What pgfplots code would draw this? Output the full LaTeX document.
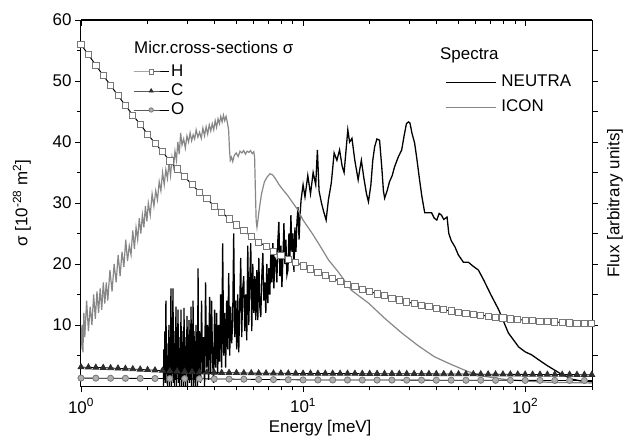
\documentclass[border=0pt]{standalone}
\usepackage{fontspec}
\setmainfont{Liberation Sans}
\usepackage{pgfplots}
\usepackage{pgfplotstable}
\pgfplotsset{compat=1.18}
\definecolor{icongray}{RGB}{135,135,135}
\definecolor{hedge}{RGB}{120,120,120}
\definecolor{ofill}{RGB}{175,175,175}
\definecolor{cfill}{RGB}{45,45,45}

\pgfplotstableread{
E H C O
1.000 56.0 3.10 1.30
1.080 54.3 3.07 1.29
1.166 52.6 3.03 1.29
1.259 50.9 3.00 1.28
1.359 49.3 2.95 1.27
1.468 47.6 2.90 1.27
1.585 46.0 2.85 1.26
1.711 44.4 2.78 1.25
1.848 42.9 2.72 1.25
1.995 41.3 2.65 1.24
2.154 39.8 2.58 1.23
2.326 38.4 2.52 1.23
2.512 36.9 2.45 1.22
2.712 35.6 2.40 1.21
2.929 34.3 2.35 1.21
3.162 33.0 2.30 1.20
3.415 31.8 2.27 1.19
3.687 30.7 2.23 1.17
3.981 29.5 2.20 1.16
4.299 28.5 2.18 1.15
4.642 27.4 2.17 1.13
5.012 26.4 2.15 1.12
5.412 25.5 2.13 1.11
5.843 24.5 2.12 1.09
6.310 23.6 2.10 1.08
6.813 22.9 2.09 1.07
7.356 22.1 2.08 1.05
7.943 21.4 2.08 1.04
8.577 20.8 2.07 1.03
9.261 20.3 2.06 1.01
10.00 19.7 2.05 1.00
10.80 19.2 2.05 1.00
11.66 18.6 2.04 0.99
12.59 18.1 2.04 0.99
13.59 17.6 2.04 0.99
14.68 17.2 2.03 0.99
15.85 16.7 2.03 0.98
17.11 16.3 2.03 0.98
18.48 15.9 2.02 0.98
19.95 15.5 2.02 0.98
21.54 15.1 2.02 0.97
23.26 14.8 2.01 0.97
25.12 14.4 2.01 0.97
27.12 14.1 2.01 0.97
29.29 13.8 2.00 0.96
31.62 13.5 2.00 0.96
34.15 13.25 1.99 0.96
36.87 13.0 1.99 0.96
39.81 12.75 1.98 0.95
42.99 12.5 1.97 0.95
46.42 12.3 1.97 0.95
50.12 12.1 1.96 0.94
54.12 11.9 1.95 0.94
58.43 11.75 1.95 0.94
63.10 11.6 1.94 0.94
68.13 11.45 1.93 0.93
73.56 11.3 1.93 0.93
79.43 11.15 1.92 0.93
85.77 11.0 1.91 0.93
92.61 10.9 1.91 0.92
100.0 10.8 1.90 0.92
108.0 10.7 1.89 0.92
116.6 10.6 1.89 0.92
125.9 10.55 1.88 0.91
135.9 10.5 1.88 0.91
146.8 10.4 1.87 0.91
158.5 10.35 1.87 0.91
171.1 10.3 1.86 0.90
184.8 10.25 1.86 0.90
199.5 10.2 1.85 0.90
}\sigmatab

\pgfplotstableread{
E F
2.350 0
2.362 6
2.375 1
2.387 9
2.399 0.5
2.412 14
2.425 2
2.438 7
2.450 0
2.463 5
2.476 1
2.489 10
2.502 0
2.515 8
2.528 1.5
2.541 16
2.555 0
2.568 6
2.582 2
2.595 16
2.609 0.5
2.622 9
2.636 0
2.649 7
2.663 1
2.677 13
2.691 0
2.705 5
2.720 2
2.734 12.5
2.748 0.5
2.762 8
2.777 0
2.791 6
2.805 1
2.820 12.5
2.835 0
2.850 7
2.865 1.5
2.880 9
2.895 0
2.910 12.8
2.925 1
2.940 6
2.955 0
2.970 8
2.986 2
3.002 11.5
3.018 0
3.034 7
3.049 1
3.065 10.8
3.081 0.5
3.097 6
3.113 1
3.129 13
3.146 0
3.163 8
3.179 2
3.196 14
3.213 0
3.229 9
3.246 1
3.263 6
3.279 0
3.296 10
3.314 1.5
3.331 7
3.349 0
3.366 19.3
3.384 1
3.419 9
3.454 0.5
3.490 14
3.527 2
3.564 8
3.601 0
3.639 17
3.677 3
3.715 10
3.754 1
3.794 14.6
3.833 2
3.873 14
3.914 4
3.955 0.5
3.996 12.5
4.038 3
4.081 12
4.124 2
4.167 10
4.210 4
4.254 15
4.299 3
4.345 23.4
4.390 5
4.436 12
4.481 3
4.529 14
4.577 6
4.625 18.5
4.673 5
4.720 13
4.771 7
4.821 11
4.871 25
4.922 8
4.972 14
5.026 6
5.079 15
5.132 5.5
5.185 13
5.238 21
5.294 8
5.350 16
5.406 18
5.462 9
5.518 15
5.577 7.5
5.636 23
5.695 10
5.754 17
5.813 23.4
5.875 9
5.937 20
5.999 12
6.061 18
6.123 10.8
6.189 19
6.254 10.8
6.320 21
6.385 13
6.451 11.3
6.520 18
6.589 21.8
6.658 14
6.727 17
6.795 12
6.868 20
6.941 13.6
7.013 19.3
7.086 15
7.158 22
7.235 17
7.311 23.4
7.388 16
7.465 21
7.541 20.6
7.622 17
7.702 24
7.783 26.9
7.863 18
7.944 23
8.029 16.2
8.114 21
8.199 26.7
8.283 20
8.368 24
8.458 18.2
8.547 19
8.636 25
8.726 21
8.815 28
8.910 22
9.004 25
9.098 18.7
9.192 26
9.287 22
9.388 27
9.490 29.3
9.591 24
9.692 28
9.794 30.5
10.0 33
10.2 31
10.5 34.5
10.8 31.5
11.1 35
11.4 33
11.6 38.7
11.8 32
12.1 30
12.4 28.5
12.7 27.2
13.0 30.5
13.4 33.3
13.8 38.2
14.2 37
14.6 38.7
15.0 36
15.3 35
15.6 38.5
15.9 42
16.2 40
16.6 40.6
17.1 37
17.7 33.8
18.0 35.5
18.3 37
18.8 34
19.3 31.5
19.7 30.2
20.2 33
20.6 37
21.0 39.2
21.5 40.5
22.1 40.3
22.6 36
23.0 32
23.3 30.8
23.9 32
24.5 33.5
25.2 34.5
25.8 35.9
26.8 37.5
27.8 38.7
28.5 41
29.2 43.0
29.8 43.3
30.3 43.1
30.9 41.5
31.8 39.8
32.6 37
33.4 34
34.3 31
35.3 28.4
37.9 28.4
39.0 27.5
40.0 27.2
41.0 28.3
42.0 28
43.0 27.3
44.5 27.7
45.3 25
46.5 23.8
48.3 22.8
50.0 21.5
52.7 20.3
55.5 20.3
58.0 19.7
61.6 19
65.0 17.4
70.0 15
76.0 12.5
84.0 8.7
93.5 6.4
100 5.6
107 5.1
115 4.3
125 3.4
143 2.1
163 1.1
180 0.8
200 0.7
}\neutratab

\pgfplotstableread{
E F
1.00 6
1.01 10
1.02 5.5
1.03 12
1.04 8
1.06 14
1.08 9
1.10 13
1.12 10
1.14 15
1.16 11
1.18 15.5
1.20 12
1.22 16
1.24 12.5
1.26 17
1.28 13.5
1.30 17
1.32 14
1.35 19
1.38 15.5
1.41 20
1.44 17
1.47 21.5
1.50 18
1.53 22
1.56 19.5
1.59 24
1.62 20.5
1.65 23
1.68 21.5
1.71 25.5
1.74 22.5
1.77 26
1.80 24
1.83 27.5
1.86 25
1.89 28
1.92 26
1.95 29.5
1.98 27
2.01 30
2.05 28
2.09 31.5
2.13 29.5
2.17 32
2.21 30.5
2.25 33.5
2.29 32
2.33 35
2.37 33
2.41 35.5
2.45 34
2.49 36.5
2.53 34.5
2.57 37.5
2.61 36
2.65 38.5
2.69 37
2.73 40
2.77 38
2.81 41.5
2.85 39.5
2.90 40.5
2.95 39
3.00 41
3.05 40
3.10 41.5
3.15 40.2
3.20 41.2
3.25 40.5
3.30 42
3.36 40.8
3.42 41.6
3.48 40.6
3.54 42.3
3.60 41
3.66 42.5
3.72 41.3
3.78 42.8
3.84 41.8
3.90 43
3.96 42
4.02 43.5
4.08 42.4
4.14 43.8
4.20 43
4.26 44.2
4.32 43.3
4.38 44.4
4.44 43.5
4.50 44.2
4.56 43.2
4.62 42
4.66 39
4.70 37
4.76 37.5
4.82 36.8
4.90 37.8
5.00 38.2
5.10 37.6
5.20 38.5
5.30 38.2
5.40 38.6
5.50 38.0
5.60 38.5
5.70 38.3
5.80 38.6
5.90 38.1
6.00 38.4
6.05 37.5
6.10 32
6.15 27
6.20 26
6.25 27
6.35 29
6.50 31.5
6.70 33.5
6.90 34.3
7.10 34.8
7.30 34.6
7.50 34.0
7.80 33.0
8.10 32.2
8.50 31.3
9.00 30.0
9.50 28.8
10.0 27.2
11.0 25.0
12.0 22.8
13.0 20.7
14.4 18.7
16.5 15.7
19.7 13.6
23.3 11.1
27.8 8.7
33.0 6.6
39.0 4.8
46.0 3.6
55.0 2.4
65.0 1.6
80.0 1.1
100 0.8
130 0.6
200 0.5
}\icontab

\begin{document}
\begin{tikzpicture}[font=\fontsize{17}{20}\selectfont]
\useasboundingbox (-81bp,-54bp) rectangle (545bp,386bp);
% spectra axis (right y axis)
\begin{axis}[
  at={(0,0)}, anchor=south west, scale only axis,
  width=511bp, height=366bp,
  xmode=log, xmin=1, xmax=200, ymin=0, ymax=60,
  axis x line=none, axis y line*=right,
  axis line style={line width=1bp, -},
  ytick={5,10,15,20,25,30,35,40,45,50,55}, yticklabels=\empty,
  tick align=outside, major tick length=6bp,
  every tick/.style={black, line width=0.9bp},
  ylabel={Flux [arbitrary units]},
  ylabel style={at={(axis description cs:1.045,0.5)}, anchor=center, font=\fontsize{17}{20}\selectfont},
  legend style={draw=none, fill=none, inner sep=0pt, at={(axis description cs:0.7123,0.851)}, anchor=north west,
    font=\fontsize{17}{20}\selectfont, row sep=10bp,
    nodes={inner sep=0pt, text height=12bp, text depth=3bp},
    /tikz/every odd column/.append style={column sep=5bp}},
  legend cell align=left,
  legend image code/.code={\draw[#1] (0bp,0bp) -- (50bp,0bp);},
]
\addplot[black, line width=1.3bp] table[x=E, y=F] {\neutratab};
\addlegendentry{NEUTRA}
\addplot[icongray, line width=1.2bp] table[x=E, y=F] {\icontab};
\addlegendentry{ICON}
\end{axis}
% top ticks, inside
\begin{axis}[
  at={(0,0)}, anchor=south west, scale only axis,
  width=511bp, height=366bp,
  xmode=log, xmin=1, xmax=200, ymin=0, ymax=60,
  axis y line=none, axis x line*=top,
  axis line style={line width=1bp, -},
  xtick={1,10,100}, xticklabels=\empty,
  minor xtick={2,3,4,5,6,7,8,9,20,30,40,50,60,70,80,90,200},
  tick align=inside, major tick length=6bp, minor tick length=4bp,
  every tick/.style={black, line width=0.9bp},
]
\end{axis}
% main axis: cross sections
\begin{axis}[
  at={(0,0)}, anchor=south west, scale only axis,
  width=511bp, height=366bp,
  xmode=log, xmin=1, xmax=200, ymin=0, ymax=60,
  axis line style={line width=1bp},
  xtick pos=bottom, ytick pos=left,
  tick align=outside, major tick length=6bp, minor tick length=4bp,
  every tick/.style={black, line width=0.9bp},
  xtick={1,10,100},
  xticklabels={10\textsuperscript{0},10\textsuperscript{1},10\textsuperscript{2}},
  xticklabel style={yshift=-3bp},
  minor xtick={2,3,4,5,6,7,8,9,20,30,40,50,60,70,80,90,200},
  ytick={10,20,30,40,50,60}, minor ytick={5,15,25,35,45,55},
  yticklabel style={/pgf/number format/assume math mode=true},
  tick label style={font=\fontsize{17}{20}\selectfont},
  xlabel={Energy [meV]},
  ylabel={σ [10\textsuperscript{-28} m\textsuperscript{2}]},
  xlabel style={at={(axis description cs:0.468,-0.115)}, anchor=center, font=\fontsize{17}{20}\selectfont},
  ylabel style={at={(axis description cs:-0.1155,0.5)}, anchor=center, font=\fontsize{17}{20}\selectfont},
  legend style={draw=none, fill=none, inner sep=0pt, at={(axis description cs:0.1017,0.879)}, anchor=north west,
    font=\fontsize{17}{20}\selectfont, row sep=4bp,
    nodes={inner sep=0pt, text height=12bp, text depth=3bp},
    /tikz/every odd column/.append style={column sep=2bp}},
  legend cell align=left,
  legend image code/.code={\draw[mark repeat=2, mark phase=2, #1, mark size=2.2bp] plot coordinates {(0bp,0bp) (17.5bp,0bp) (35bp,0bp)};},
]
\addplot[black, line width=1bp, mark=square*, mark size=3.1bp,
  mark options={draw=hedge, fill=white, line width=0.8bp, solid}] table[x=E, y=H] {\sigmatab};
\addlegendentry{H}
\addplot[black, line width=0.8bp, mark=triangle*, mark size=3.4bp,
  mark options={draw=cfill, fill=cfill, solid}] table[x=E, y=C] {\sigmatab};
\addlegendentry{C}
\addplot[black, line width=0.8bp, mark=*, mark size=3.1bp, mark repeat=2,
  mark options={draw=hedge, fill=ofill, line width=0.8bp, solid}] table[x=E, y=O] {\sigmatab};
\addlegendentry{O}
\node[anchor=west, inner sep=0pt] at (axis description cs:0.1037,0.926) {Micr.cross-sections σ};
\node[anchor=west, inner sep=0pt] at (axis description cs:0.7025,0.904) {Spectra};
\end{axis}
\end{tikzpicture}
\end{document}
